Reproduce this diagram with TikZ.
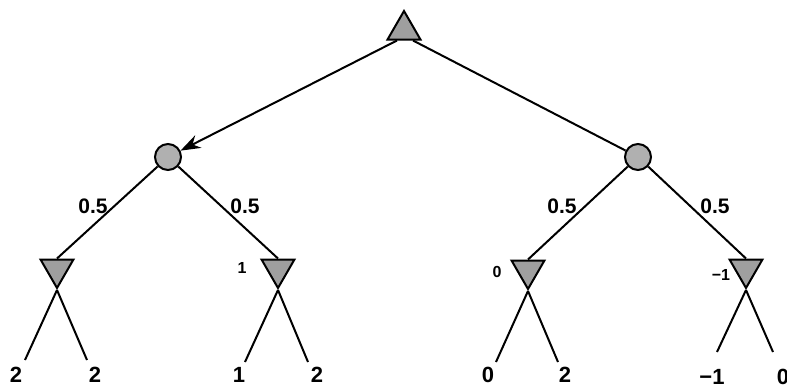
\documentclass[tikz,border=0pt]{standalone}
\usepackage{fontspec}
\setmainfont{Liberation Sans}
\usetikzlibrary{shapes.geometric,arrows.meta,calc}
\begin{document}
\begin{tikzpicture}[x=1pt,y=-1pt,
  edge/.style={line width=2pt},
  maxnode/.style={regular polygon, regular polygon sides=3, draw, line width=2pt,
    fill=gray!75, minimum size=38pt, inner sep=0pt},
  minnode/.style={maxnode, shape border rotate=180},
  chance/.style={circle, draw, line width=2pt, fill=gray!62, minimum size=26pt, inner sep=0pt},
  prob/.style={font=\bfseries\fontsize{21}{21}\selectfont, inner sep=0pt},
  leaf/.style={font=\bfseries\fontsize{22}{22}\selectfont, anchor=north, inner sep=0pt},
  val/.style={font=\bfseries\fontsize{16}{16}\selectfont, inner sep=0pt}]
\useasboundingbox (0,0) rectangle (787,388);
\fill[white] (0,0) rectangle (787,388);

\node[maxnode] (top) at (404,30) {};
\node[chance] (c1) at (168,157) {};
\node[chance] (c2) at (638,157) {};

\node[minnode] (m1) at (57,269) {};
\node[minnode] (m2) at (278,269) {};
\node[minnode] (m3) at (528,270) {};
\node[minnode] (m4) at (746,269) {};

\draw[edge,-{Stealth[length=20pt,width=14pt]}] ($(top.south)+(-7,0)$) -- (c1);
\draw[edge] ($(top.south)+(9,0)$) -- (c2);

\draw[edge] (c1) -- (m1.north);
\draw[edge] (c1) -- (m2.north);
\draw[edge] (c2) -- (m3.north);
\draw[edge] (c2) -- (m4.north);

\node[prob] (p1) at (93,206) {0.5};
\node[prob] (p2) at (245,206) {0.5};
\node[prob] (p3) at (562,206) {0.5};
\node[prob] (p4) at (715,206) {0.5};

\node[val] (v2) at (242,268) {1};
\node[val] (v3) at (497,272) {0};
\node[val] (v4) at (721,275) {−1};

\coordinate (e1) at (25,360);
\coordinate (e2) at (87,360);
\coordinate (e3) at (245,362);
\coordinate (e4) at (308,362);
\coordinate (e5) at (496,362);
\coordinate (e6) at (558,362);
\coordinate (e7) at (717,352);
\coordinate (e8) at (773,352);

\draw[edge] (m1.south) -- (e1);
\draw[edge] (m1.south) -- (e2);
\draw[edge] (m2.south) -- (e3);
\draw[edge] (m2.south) -- (e4);
\draw[edge] (m3.south) -- (e5);
\draw[edge] (m3.south) -- (e6);
\draw[edge] (m4.south) -- (e7);
\draw[edge] (m4.south) -- (e8);

\node[leaf] (l1) at (16,367) {2};
\node[leaf] (l2) at (95,367) {2};
\node[leaf] (l3) at (239,367) {1};
\node[leaf] (l4) at (317,367) {2};
\node[leaf] (l5) at (488,367) {0};
\node[leaf] (l6) at (565,367) {2};
\node[leaf] (l7) at (712,369) {−1};
\node[leaf] (l8) at (783,369) {0};
\end{tikzpicture}
\end{document}
